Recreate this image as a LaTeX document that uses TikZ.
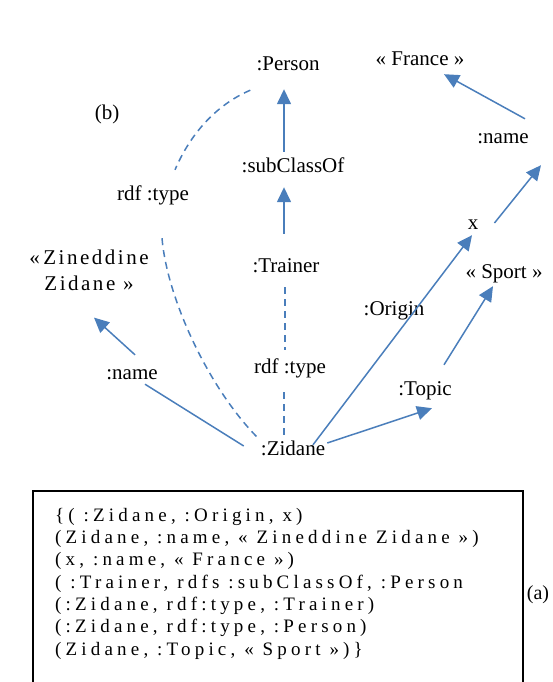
\documentclass[tikz,border=0pt]{standalone}
\usepackage{fontspec}
\setmainfont{Liberation Serif}
\newfontfamily\espace[LetterSpace=12]{Liberation Serif}
\newfontfamily\espaceb[LetterSpace=22]{Liberation Serif}
\usetikzlibrary{arrows.meta}
\definecolor{bleulien}{RGB}{74,126,187}

\begin{document}
\begin{tikzpicture}[x=1pt,y=-1pt,
  etiq/.style={inner sep=0pt, text height=14pt, text depth=4pt, font=\fontsize{21}{25}\selectfont},
  lien/.style={draw=bleulien, line width=1.5pt, -{Triangle[length=15pt,width=14pt]}},
  trait/.style={draw=bleulien, line width=1.5pt},
  pointille/.style={draw=bleulien, line width=1.5pt, dash pattern=on 7pt off 5pt}]
\useasboundingbox (0,0) rectangle (553,682);

% Noeuds du graphe (b)
\node[etiq] (b) at (107,115) {(b)};
\node[etiq] (person) at (288,66) {:Person};
\node[etiq] (france) at (420,61) {« France »};
\node[etiq] (nameR) at (503,138) {:name};
\node[etiq] (subclass) at (293,167) {:subClassOf};
\node[etiq] (typeL) at (153,195) {rdf :type};
\node[etiq] (x) at (473,224) {x};
\node[inner sep=0pt, align=center, font=\espace\fontsize{21}{26}\selectfont] (zineddine) at (89,270) {«\,Zineddine\\Zidane »};
\node[etiq] (trainer) at (286,267) {:Trainer};
\node[etiq] (sport) at (504,273) {« Sport »};
\node[etiq] (origin) at (394,310) {:Origin};
\node[etiq] (nameL) at (132,374) {:name};
\node[etiq] (typeM) at (290,368) {rdf :type};
\node[etiq] (topic) at (425,390) {:Topic};
\node[etiq] (zidane) at (293,450) {:Zidane};

% Arcs pleins
\draw[lien] ([shift={(-9,-6)}]subclass.north) -- ([shift={(-4,14)}]person.south);
\draw[lien] ([shift={(-2,-24)}]trainer.north) -- ([shift={(-9,11)}]subclass.south);
\draw[lien] ([shift={(22,-10)}]nameR.north) -- ([shift={(24,4)}]france.south);
\draw[lien] ([shift={(16,-1)}]x.east) -- ([shift={(38,18)}]nameR.south);
\draw[lien] ([shift={(20,4)}]zidane.north) -- ([shift={(-1,2)}]x.south);
\draw[lien] ([shift={(2,-7)}]zidane.east) -- ([shift={(7,9)}]topic.south);
\draw[lien] ([shift={(19,-16)}]topic.north) -- ([shift={(-11,4)}]sport.south);
\draw[lien] ([shift={(3,-10)}]nameL.north) -- ([shift={(5,27)}]zineddine.south);
\draw[trait] ([shift={(-17,-4)}]zidane.west) -- ([shift={(13,1)}]nameL.south);

% Arcs rdf :type (pointilles)
\draw[pointille] ([shift={(-1,11)}]trainer.south) -- ([shift={(-5,-9)}]typeM.north);
\draw[pointille] ([shift={(-6,15)}]typeM.south) -- ([shift={(-9,-5)}]zidane.north);
\draw[pointille] ([shift={(-6,15)}]person.south west) .. controls +(-35,15) and +(15,-35) .. ([shift={(22,-16)}]typeL.north);
\draw[pointille] ([shift={(9,34)}]typeL.south) .. controls +(5,60) and +(-50,-50) .. ([shift={(-2,-2)}]zidane.north west);

% Cadre des triplets (a)
\draw[line width=2pt] (33,684) -- (33,491) -- (523,491) -- (523,684);
\node[anchor=north west, inner sep=0pt, align=left, font=\espaceb\fontsize{19}{22.3}\selectfont] (triplets) at (55,508)
  {\{( :Zidane, :Origin, x)\\
   (Zidane, :name, « Zineddine Zidane »)\\
   (x, :name, « France »)\\
   ( :Trainer, rdfs :subClassOf, :Person\\
   (:Zidane, rdf:type, :Trainer)\\
   (:Zidane, rdf:type, :Person)\\
   (Zidane, :Topic, « Sport »)\}};
\node[etiq, font=\fontsize{20}{24}\selectfont] (a) at (538,594) {(a)};

\end{tikzpicture}
\end{document}
